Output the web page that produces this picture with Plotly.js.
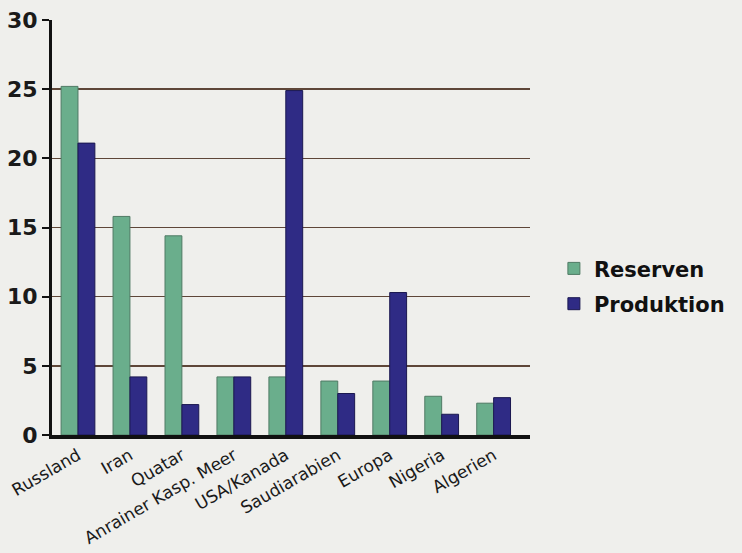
<!DOCTYPE html>
<html>
<head>
<meta charset="utf-8">
<script src="https://cdn.plot.ly/plotly-3.0.1.min.js"></script>
<style>html,body{margin:0;padding:0;background:#efefec;}#chart{width:742px;height:553px;}</style>
</head>
<body>
<div id="chart"></div>
<script>
const categories = ["Russland", "Iran", "Quatar", "Anrainer Kasp. Meer", "USA/Kanada", "Saudiarabien", "Europa", "Nigeria", "Algerien"];
const reserven = [25.2, 15.8, 14.4, 4.2, 4.2, 3.9, 3.9, 2.8, 2.3];
const produktion = [21.1, 4.2, 2.2, 4.2, 24.9, 3.0, 10.3, 1.5, 2.7];
const seriesNames = ["Reserven", "Produktion"];
const yTicks = [0, 5, 10, 15, 20, 25, 30];

const traces = [
  {type: "bar", name: seriesNames[0], legendgroup: "g1", x: categories, y: reserven,
   marker: {color: "#6aae8c", line: {color: "#4f7a64", width: 1}}},
  {type: "bar", name: seriesNames[1], legendgroup: "g2", x: categories, y: produktion,
   marker: {color: "#2f2b85", line: {color: "#1b1850", width: 1}}}
];

const layout = {
  width: 742, height: 553,
  margin: {l: 52, r: 212, t: 20, b: 118},
  paper_bgcolor: "#efefec", plot_bgcolor: "rgba(0,0,0,0)",
  barmode: "group", bargap: 0.35, bargroupgap: 0,
  showlegend: true,
  legend: {x: 1.05, y: 0.45, xanchor: "left", yanchor: "top",
           font: {family: "DejaVu Sans", size: 21, color: "#111", weight: "bold"},
           itemwidth: 30, tracegroupgap: 5, bgcolor: "rgba(0,0,0,0)"},
  font: {family: "DejaVu Sans", color: "#1a1a1a"},
  xaxis: {
    type: "category", range: [-0.5, 8.7],
    showline: true, linecolor: "#111", linewidth: 4,
    ticks: "", tickangle: -30, showgrid: false, zeroline: false,
    tickfont: {family: "DejaVu Sans", size: 17, color: "#1a1a1a"}
  },
  yaxis: {
    range: [0, 30], tickvals: yTicks, ticktext: yTicks.map(String),
    showline: true, linecolor: "#111", linewidth: 3,
    ticks: "outside", ticklen: 7, tickwidth: 2, tickcolor: "#111",
    showgrid: true, gridcolor: "#5e4638", gridwidth: 1.5, zeroline: false,
    tickfont: {family: "DejaVu Sans", size: 22, color: "#1a1a1a", weight: "bold"}
  }
};

Plotly.newPlot("chart", traces, layout, {displayModeBar: false, staticPlot: true});
</script>
</body>
</html>
